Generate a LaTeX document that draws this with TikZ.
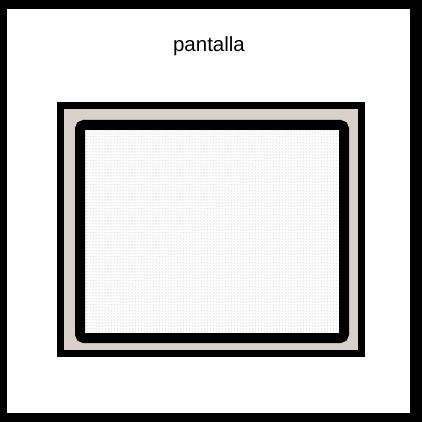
\documentclass[tikz,border=0pt]{standalone}
\usepackage{fontspec}
\setmainfont{Liberation Sans}
\usetikzlibrary{patterns}
\definecolor{beige}{HTML}{D8D0C9}
\tikzset{
  framebox/.style={fill=beige, draw=black, line width=7pt},
  screenbox/.style={draw=black, line width=10pt, rounded corners=4pt, fill=white},
}
\begin{document}
\begin{tikzpicture}[x=1pt,y=-1pt]
\useasboundingbox (0,0) rectangle (422,422);
% outer frame
\fill[black] (0,0) rectangle (422,422);
\fill[white] (7,9) rectangle (410,413);
% label
\node[anchor=base, inner sep=0pt, font=\fontsize{20.5}{24}\selectfont] (label) at (209,51.5) {pantalla};
% outer bezel
\draw[framebox] (60.5,105.5) rectangle (361.5,353.5);
% screen
\draw[screenbox] (80,125) rectangle (344,338);
\path[pattern=dots, pattern color=black!35] (85,130) rectangle (339,333);
\end{tikzpicture}
\end{document}
